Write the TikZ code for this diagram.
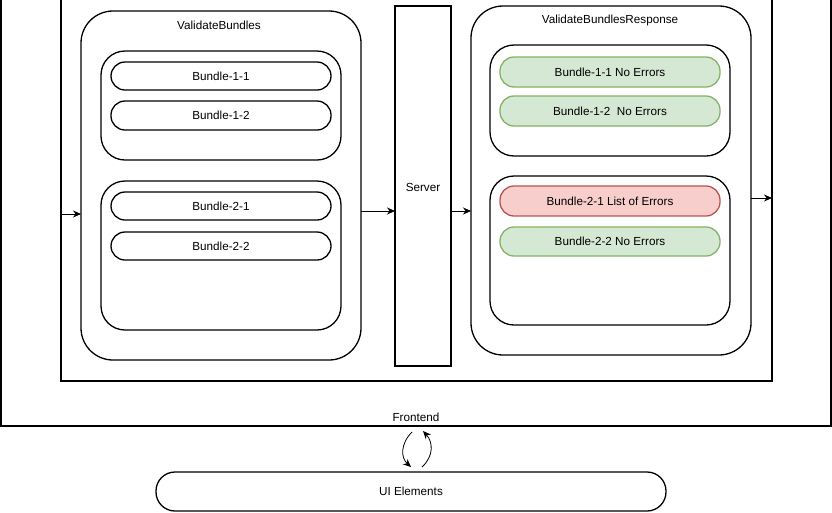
\documentclass[tikz,border=0pt]{standalone}
\usepackage{fontspec}
\setmainfont{Liberation Sans}
\usetikzlibrary{arrows.meta}
\definecolor{gfill}{HTML}{D5E8D4}
\definecolor{gline}{HTML}{82B366}
\definecolor{rfill}{HTML}{F8CECC}
\definecolor{rline}{HTML}{B85450}
\tikzset{
  box/.style={draw=black, line width=1.3pt, anchor=north west, inner sep=0pt, outer sep=0pt},
  bigbox/.style={box, rounded corners=32pt},
  grpbox/.style={box, rounded corners=24pt},
  pill/.style={box, rounded corners=14pt},
  okpill/.style={pill, draw=gline, fill=gfill},
  errpill/.style={pill, draw=rline, fill=rfill},
  lbl/.style={font=\fontsize{11.7}{14}\selectfont, inner sep=0pt},
  arr/.style={line width=0.8pt, -{Stealth[length=8pt,width=7pt]}},
}
\begin{document}
\begin{tikzpicture}[x=1pt,y=-1pt]
\useasboundingbox (0,0) rectangle (832,512);
\clip (0,0) rectangle (832,512);
\fill[white] (0,0) rectangle (832,512);
% outer frontend box
\node[box, minimum width=830pt, minimum height=446pt] (front) at (1,-20) {};
\node[lbl] (frontlbl) at (416,417) {Frontend};
% inner box
\node[box, minimum width=711pt, minimum height=401pt] (inner) at (61,-20) {};
% ValidateBundles
\node[bigbox, minimum width=280pt, minimum height=349pt] (vb) at (81,11) {};
\node[lbl] (vblbl) at (219,25) {ValidateBundles};
\node[grpbox, minimum width=240pt, minimum height=109pt] (g1) at (101,51) {};
\node[pill, minimum width=220pt, minimum height=28pt] (b11) at (111,62) {};
\node[lbl] at (b11.center) {Bundle-1-1};
\node[pill, minimum width=220pt, minimum height=29pt] (b12) at (111,101) {};
\node[lbl] at (b12.center) {Bundle-1-2};
\node[grpbox, minimum width=240pt, minimum height=149pt] (g2) at (101,181) {};
\node[pill, minimum width=220pt, minimum height=28pt] (b21) at (111,192) {};
\node[lbl] at (b21.center) {Bundle-2-1};
\node[pill, minimum width=220pt, minimum height=28pt] (b22) at (111,232) {};
\node[lbl] at (b22.center) {Bundle-2-2};
% Server
\node[box, minimum width=56pt, minimum height=360pt] (server) at (395,6) {};
\node[lbl] (srvlbl) at (423,187) {Server};
% Response
\node[bigbox, minimum width=280pt, minimum height=349pt] (vr) at (471,6) {};
\node[lbl] (vrlbl) at (610,20) {ValidateBundlesResponse};
\node[grpbox, minimum width=240pt, minimum height=111pt] (r1) at (490,45) {};
\node[okpill, minimum width=220pt, minimum height=30pt] (rb11) at (500,57) {};
\node[lbl] at (rb11.center) {Bundle-1-1 No Errors};
\node[okpill, minimum width=220pt, minimum height=30pt] (rb12) at (500,96) {};
\node[lbl] at (rb12.center) {Bundle-1-2\ \ No Errors};
\node[grpbox, minimum width=240pt, minimum height=149pt] (r2) at (490,176) {};
\node[errpill, minimum width=220pt, minimum height=30pt] (rb21) at (500,186) {};
\node[lbl] at (rb21.center) {Bundle-2-1 List of Errors};
\node[okpill, minimum width=220pt, minimum height=29pt] (rb22) at (500,227) {};
\node[lbl] at (rb22.center) {Bundle-2-2 No Errors};
% UI Elements
\node[pill, rounded corners=19pt, minimum width=510pt, minimum height=39pt] (ui) at (156,472) {};
\node[lbl] at (ui.center) {UI Elements};
% arrows
\coordinate (a1) at (62,214);
\draw[arr] (a1) -- (a1 -| vb.west);
\coordinate (a2) at (361,211);
\draw[arr] (a2) -- (a2 -| server.west);
\coordinate (a3) at (451,211);
\draw[arr] (a3) -- (a3 -| vr.west);
\coordinate (a4) at (751,198);
\draw[arr] (a4) -- (a4 -| inner.east);
% frontend <-> UI
\coordinate (c1) at (412,432);
\coordinate (c2) at (411,467);
\coordinate (c3) at (422,467);
\coordinate (c4) at (423,431);
\draw[arr] (c1) .. controls (400,444) and (401,458) .. (c2);
\draw[arr] (c3) .. controls (434,456) and (433,442) .. (c4);
\end{tikzpicture}
\end{document}
